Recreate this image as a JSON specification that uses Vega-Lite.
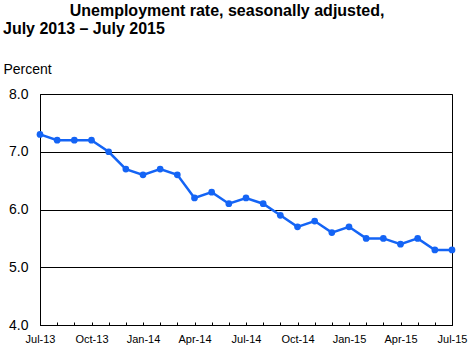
{
  "$schema": "https://vega.github.io/schema/vega-lite/v6.json",
  "width": 412,
  "height": 231,
  "autosize": {"type": "none"},
  "padding": {"left": 40, "top": 94, "right": 19, "bottom": 27},
  "background": "white",
  "config": {
    "font": "Liberation Sans",
    "view": {"stroke": "black", "strokeWidth": 1}
  },
  "title": {
    "text": ["\u200b\u00a0\u00a0\u00a0\u00a0\u00a0\u00a0\u00a0\u00a0\u00a0\u00a0\u00a0\u00a0\u00a0\u00a0\u00a0Unemployment rate, seasonally adjusted,", "July 2013 \u2013 July 2015"],
    "anchor": "start",
    "frame": "group",
    "dx": -37,
    "offset": 25,
    "font": "Liberation Sans",
    "fontSize": 16,
    "fontWeight": "bold",
    "color": "black",
    "lineHeight": 18
  },
  "data": {
    "values": [
      {"month": "Jul-13", "rate": 7.3},
      {"month": "Aug-13", "rate": 7.2},
      {"month": "Sep-13", "rate": 7.2},
      {"month": "Oct-13", "rate": 7.2},
      {"month": "Nov-13", "rate": 7.0},
      {"month": "Dec-13", "rate": 6.7},
      {"month": "Jan-14", "rate": 6.6},
      {"month": "Feb-14", "rate": 6.7},
      {"month": "Mar-14", "rate": 6.6},
      {"month": "Apr-14", "rate": 6.2},
      {"month": "May-14", "rate": 6.3},
      {"month": "Jun-14", "rate": 6.1},
      {"month": "Jul-14", "rate": 6.2},
      {"month": "Aug-14", "rate": 6.1},
      {"month": "Sep-14", "rate": 5.9},
      {"month": "Oct-14", "rate": 5.7},
      {"month": "Nov-14", "rate": 5.8},
      {"month": "Dec-14", "rate": 5.6},
      {"month": "Jan-15", "rate": 5.7},
      {"month": "Feb-15", "rate": 5.5},
      {"month": "Mar-15", "rate": 5.5},
      {"month": "Apr-15", "rate": 5.4},
      {"month": "May-15", "rate": 5.5},
      {"month": "Jun-15", "rate": 5.3},
      {"month": "Jul-15", "rate": 5.3}
    ]
  },
  "mark": {"type": "line", "color": "#1464F5", "strokeWidth": 2.5, "point": {"filled": true, "size": 45, "color": "#1464F5"}},
  "encoding": {
    "x": {
      "field": "month",
      "type": "ordinal",
      "sort": null,
      "scale": {"type": "point", "padding": 0},
      "axis": {
        "title": null,
        "labelAngle": 0,
        "domainColor": "black",
        "tickColor": "black",
        "tickSize": -3,
        "labelPadding": 11,
        "labelFontSize": 11,
        "labelColor": "black",
        "labelExpr": "indexof(['Jul-13','Oct-13','Jan-14','Apr-14','Jul-14','Oct-14','Jan-15','Apr-15','Jul-15'], datum.value) >= 0 ? datum.value : ''",
        "grid": false
      }
    },
    "y": {
      "field": "rate",
      "type": "quantitative",
      "scale": {"domain": [4, 8], "nice": false, "zero": false},
      "axis": {
        "values": [4, 5, 6, 7, 8],
        "format": ".1f",
        "ticks": false,
        "labelPadding": 12,
        "labelFontSize": 14,
        "labelColor": "black",
        "domainColor": "black",
        "gridColor": "black",
        "gridOpacity": 1,
        "title": "Percent",
        "titleAngle": 0,
        "titleAlign": "left",
        "titleBaseline": "alphabetic",
        "titleX": -37,
        "titleY": -21,
        "titleFontSize": 14,
        "titleFontWeight": "normal",
        "titleColor": "black"
      }
    }
  }
}
